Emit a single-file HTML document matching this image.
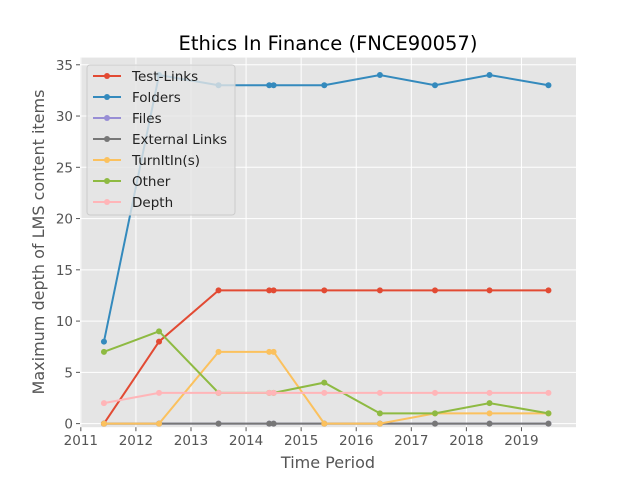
<!DOCTYPE html>
<html><head><meta charset="utf-8"><style>
body{margin:0;background:#fff}
svg text{font-family:"DejaVu Sans","Liberation Sans",sans-serif}
</style></head><body>
<svg id="chart" width="640" height="480" viewBox="0 0 640 480">
<rect x="0" y="0" width="640" height="480" fill="#fff"/>
<rect x="80" y="57.6" width="496" height="369.6" fill="#e5e5e5"/>
<g id="grid"></g>
<g id="series"></g>
<g id="axes"></g>
<text x="328" y="50" font-size="19.5" text-anchor="middle" fill="#000">Ethics In Finance (FNCE90057)</text>
<text x="328" y="468" font-size="16" text-anchor="middle" fill="#555">Time Period</text>
<text x="44" y="242" font-size="16" text-anchor="middle" fill="#555" transform="rotate(-90 44 242)">Maximum depth of LMS content items</text>
<g id="legend"></g>
</svg>
<script>
const xYears = [2011.42, 2012.42, 2013.5, 2014.42, 2014.5, 2015.42, 2016.43, 2017.43, 2018.42, 2019.49];
const seriesNames = ["Test-Links", "Folders", "Files", "External Links", "TurnItIn(s)", "Other", "Depth"];
const testLinks = [0, 8, 13, 13, 13, 13, 13, 13, 13, 13];
const folders = [8, 34, 33, 33, 33, 33, 34, 33, 34, 33];
const files = [0, 0, 0, 0, 0, 0, 0, 0, 0, 0];
const externalLinks = [0, 0, 0, 0, 0, 0, 0, 0, 0, 0];
const turnItIn = [0, 0, 7, 7, 7, 0, 0, 1, 1, 1];
const other = [7, 9, 3, 3, 3, 4, 1, 1, 2, 1];
const depth = [2, 3, 3, 3, 3, 3, 3, 3, 3, 3];
const xTicks = [2011, 2012, 2013, 2014, 2015, 2016, 2017, 2018, 2019];
const yTicks = [0, 5, 10, 15, 20, 25, 30, 35];

const colors = ["#E24A33", "#348ABD", "#988ED5", "#777777", "#FBC15E", "#8EBA42", "#FFB5B8"];
const allSeries = [testLinks, folders, files, externalLinks, turnItIn, other, depth];
const X0 = 80, X1 = 576, Y0 = 57.6, Y1 = 427.2;
const xMin = 2010.985, xMax = 2019.99, yMin = -0.35, yMax = 35.7;
function xs(v){ return X0 + (v - xMin) / (xMax - xMin) * (X1 - X0); }
function ys(v){ return Y1 - (v - yMin) / (yMax - yMin) * (Y1 - Y0); }
const NS = "http://www.w3.org/2000/svg";
function mk(tag, attrs, parent){ const e = document.createElementNS(NS, tag); for (const k in attrs) e.setAttribute(k, attrs[k]); parent.appendChild(e); return e; }
const grid = document.getElementById("grid"), axes = document.getElementById("axes"), ser = document.getElementById("series"), leg = document.getElementById("legend");
xTicks.forEach(t => {
  const x = xs(t);
  const gl = mk("line", {x1:x, x2:x, y1:Y0, y2:Y1, stroke:"#fff", "stroke-width":1}, grid);
  
  
  mk("line", {x1:x, x2:x, y1:Y1, y2:Y1+4, stroke:"#555", "stroke-width":1}, axes);
  const tx = mk("text", {x:x, y:Y1+18, "font-size":13.5, "text-anchor":"middle", fill:"#555"}, axes);
  tx.textContent = t;
  
  
});
yTicks.forEach(t => {
  const y = ys(t);
  const gl = mk("line", {x1:X0, x2:X1, y1:y, y2:y, stroke:"#fff", "stroke-width":1}, grid);
  
  
  mk("line", {x1:X0-4, x2:X0, y1:y, y2:y, stroke:"#555", "stroke-width":1}, axes);
  const tx = mk("text", {x:X0-7, y:y+5, "font-size":13.5, "text-anchor":"end", fill:"#555"}, axes);
  tx.textContent = t;
  
  
});
allSeries.forEach((vals, i) => {
  const g = mk("g", {}, ser);
  
  
  const pts = vals.map((v, j) => xs(xYears[j]) + "," + ys(v)).join(" ");
  mk("polyline", {points:pts, fill:"none", stroke:colors[i], "stroke-width":2}, g);
  vals.forEach((v, j) => {
    const c = mk("circle", {cx:xs(xYears[j]), cy:ys(v), r:3, fill:colors[i]}, g);
    
    
  });
});
const lb = mk("rect", {x:87, y:65, width:148, height:150, rx:3, fill:"#e5e5e5", "fill-opacity":0.8, stroke:"#ccc", "stroke-width":1}, leg);


seriesNames.forEach((n, i) => {
  const y = 76 + i * 21;
  const g = mk("g", {}, leg);
  
  
  mk("line", {x1:93, x2:121, y1:y, y2:y, stroke:colors[i], "stroke-width":2}, g);
  mk("circle", {cx:107, cy:y, r:3, fill:colors[i]}, g);
  const t = mk("text", {x:132, y:y+5, "font-size":13.5, fill:"#222"}, g);
  t.textContent = n;
});
</script>
</body></html>
